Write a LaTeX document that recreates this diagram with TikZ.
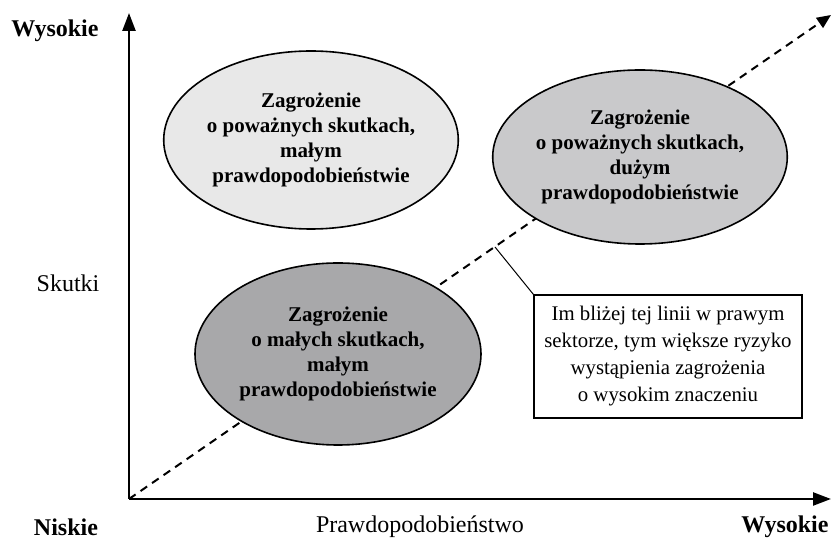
\documentclass[tikz,border=0pt]{standalone}
\usepackage{fontspec}
\setmainfont{Liberation Serif}
\usetikzlibrary{arrows.meta,shapes.geometric}
\definecolor{lightgrey}{RGB}{232,232,232}
\definecolor{midgrey}{RGB}{201,201,203}
\definecolor{darkgrey}{RGB}{168,168,170}

\begin{document}
\begin{tikzpicture}[x=0.5pt, y=0.5pt,
        axis/.style={line width=1.2pt, -{Triangle[length=9pt,width=6.5pt]}},
        risk/.style={ellipse, draw, line width=0.8pt, inner sep=0pt, align=center,
            font=\fontsize{10.5}{12.5}\selectfont\bfseries},
        axislabel/.style={font=\fontsize{12}{14}\selectfont}]
            \useasboundingbox (-129,-47) rectangle (703,499);

            % axes
            \coordinate (origin) at (0,0);
            \coordinate (ytip) at (0,486);
            \coordinate (xtip) at (702,0);
            \coordinate (dtip) at (702,484);
            \draw[axis] (origin) -- (ytip);
            \draw[axis] (origin) -- (xtip);
            \draw[line width=1pt, dash pattern=on 4pt off 3pt, -{Triangle[length=7pt,width=6pt]}] (origin) -- (dtip);

            % risk areas
            \node[risk, fill=lightgrey, minimum width=144pt, minimum height=89pt] (seriousLow) at (182,359)
                {Zagrożenie\\o poważnych skutkach,\\małym\\prawdopodobieństwie};
            \node[risk, fill=midgrey, minimum width=147pt, minimum height=87pt] (seriousHigh) at (511,342)
                {Zagrożenie\\o poważnych skutkach,\\dużym\\prawdopodobieństwie};
            \node[risk, fill=darkgrey, minimum width=143pt, minimum height=91pt] (minorLow) at (209,145)
                {Zagrożenie\\o małych skutkach,\\małym\\prawdopodobieństwie};

            % note
            \node[draw, line width=0.6pt, align=center, minimum width=134pt, minimum height=61.5pt,
                font=\fontsize{10.4}{13.5}\selectfont] (note) at (539,142.5)
                {Im bliżej tej linii w prawym\\sektorze, tym większe ryzyko\\wystąpienia zagrożenia\\o wysokim znaczeniu};
            \coordinate (onLine) at (366,252);
            \draw[line width=0.5pt] (onLine) -- (note.north west);

            % labels
            \node[axislabel, font=\fontsize{12}{14}\selectfont\bfseries] (highY) at (-74,468) {Wysokie};
            \node[axislabel] (effects) at (-61,216) {Skutki};
            \node[axislabel, font=\fontsize{12}{14}\selectfont\bfseries] (low) at (-63,-28) {Niskie};
            \node[axislabel] (probability) at (291,-28) {Prawdopodobieństwo};
            \node[axislabel, font=\fontsize{12}{14}\selectfont\bfseries] (highX) at (656,-28) {Wysokie};
        \end{tikzpicture}
\end{document}
